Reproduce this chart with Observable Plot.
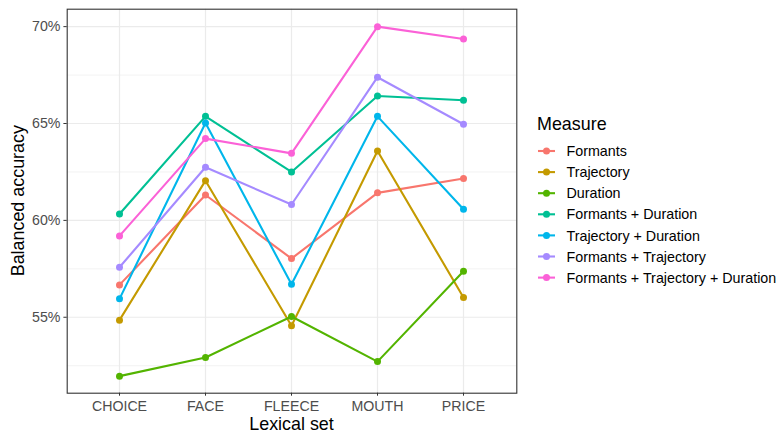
<!DOCTYPE html>
<html>
<head>
<meta charset="utf-8">
<script src="https://cdn.jsdelivr.net/npm/d3@7"></script>
<script src="https://cdn.jsdelivr.net/npm/@observablehq/plot@0.6"></script>
<style>
  html, body { margin: 0; padding: 0; background: #fff; }
  svg { display: block; }
</style>
</head>
<body>
<div id="chart"></div>
<script>
const categories = ["CHOICE", "FACE", "FLEECE", "MOUTH", "PRICE"];
const measures = [
  "Formants",
  "Trajectory",
  "Duration",
  "Formants + Duration",
  "Trajectory + Duration",
  "Formants + Trajectory",
  "Formants + Trajectory + Duration"
];
const colors = ["#F8766D", "#C49A00", "#53B400", "#00C094", "#00B6EB", "#A58AFF", "#FB61D7"];

const formants                   = [56.67, 61.31, 58.03, 61.42, 62.16];
const trajectory                 = [54.85, 62.05, 54.56, 63.58, 56.02];
const duration                   = [51.96, 52.92, 55.04, 52.71, 57.37];
const formantsDuration           = [60.33, 65.37, 62.50, 66.42, 66.20];
const trajectoryDuration         = [55.95, 65.03, 56.70, 65.37, 60.57];
const formantsTrajectory         = [57.58, 62.74, 60.82, 67.39, 64.96];
const formantsTrajectoryDuration = [59.20, 64.22, 63.46, 70.00, 69.36];

const yTicks = [55, 60, 65, 70];
const yMinor = [52.5, 57.5, 62.5, 67.5];

const seriesValues = [formants, trajectory, duration, formantsDuration,
  trajectoryDuration, formantsTrajectory, formantsTrajectoryDuration];

const data = [];
measures.forEach((m, i) => {
  categories.forEach((c, j) => data.push({measure: m, set: c, value: seriesValues[i][j]}));
});

const W = 781, H = 434;
const mL = 66.7, mR = W - 516.3, mT = 8.7, mB = H - 392.7;
const font = "'Liberation Sans', Arial, Helvetica, sans-serif";
const grid = "#EBEBEB";

const chart = Plot.plot({
  width: W,
  height: H,
  marginLeft: mL,
  marginRight: mR,
  marginTop: mT,
  marginBottom: mB,
  style: {fontFamily: font, fontSize: "14.2px", background: "#fff"},
  x: {type: "point", domain: categories, padding: 0.6, label: null},
  y: {domain: [51.08, 70.9], label: null},
  color: {domain: measures, range: colors},
  marks: [
    Plot.ruleY(yMinor, {stroke: grid, strokeWidth: 0.6}),
    Plot.ruleY(yTicks, {stroke: grid, strokeWidth: 1.2}),
    Plot.ruleX(categories, {stroke: grid, strokeWidth: 1.2}),
    Plot.line(data, {x: "set", y: "value", z: "measure", stroke: "measure", strokeWidth: 2.1}),
    Plot.dot(data, {x: "set", y: "value", fill: "measure", r: 3.5}),
    Plot.frame({stroke: "#333333", strokeWidth: 1.1}),
    Plot.axisY(yTicks, {tickSize: 3.3, tickPadding: 3.4, tickFormat: d => d + "%",
      fill: "#4D4D4D", stroke: "#333333", fontSize: 14.2, label: null}),
    Plot.axisX({tickSize: 3, tickPadding: 4.9, fill: "#4D4D4D", stroke: "#333333",
      fontSize: 14.2, label: null})
  ]
});

document.getElementById("chart").appendChild(chart);

const svg = d3.select(chart);
// axis titles
svg.append("text")
  .attr("x", (mL + (W - mR)) / 2)
  .attr("y", 430)
  .attr("text-anchor", "middle")
  .attr("font-family", font)
  .attr("font-size", 17.9)
  .attr("fill", "#000")
  .text("Lexical set");

svg.append("text")
  .attr("transform", `translate(24,${(mT + (H - mB)) / 2}) rotate(-90)`)
  .attr("text-anchor", "middle")
  .attr("font-family", font)
  .attr("font-size", 17.9)
  .attr("fill", "#000")
  .text("Balanced accuracy");

// legend
const lg = svg.append("g").attr("text-anchor", "start");
lg.append("text")
  .attr("x", 537)
  .attr("y", 130)
  .attr("text-anchor", "start")
  .attr("font-family", font)
  .attr("font-size", 17.9)
  .attr("fill", "#000")
  .text("Measure");

measures.forEach((m, i) => {
  const y = 151 + i * 21.1;
  lg.append("line")
    .attr("x1", 538).attr("x2", 555).attr("y1", y).attr("y2", y)
    .attr("stroke", colors[i]).attr("stroke-width", 2.1);
  lg.append("circle")
    .attr("cx", 546.5).attr("cy", y).attr("r", 3.5)
    .attr("fill", colors[i]);
  lg.append("text")
    .attr("x", 566.5).attr("y", y).attr("dy", "0.36em")
    .attr("text-anchor", "start")
    .attr("font-family", font)
    .attr("font-size", 14.3)
    .attr("fill", "#000")
    .text(m);
});
</script>
</body>
</html>
